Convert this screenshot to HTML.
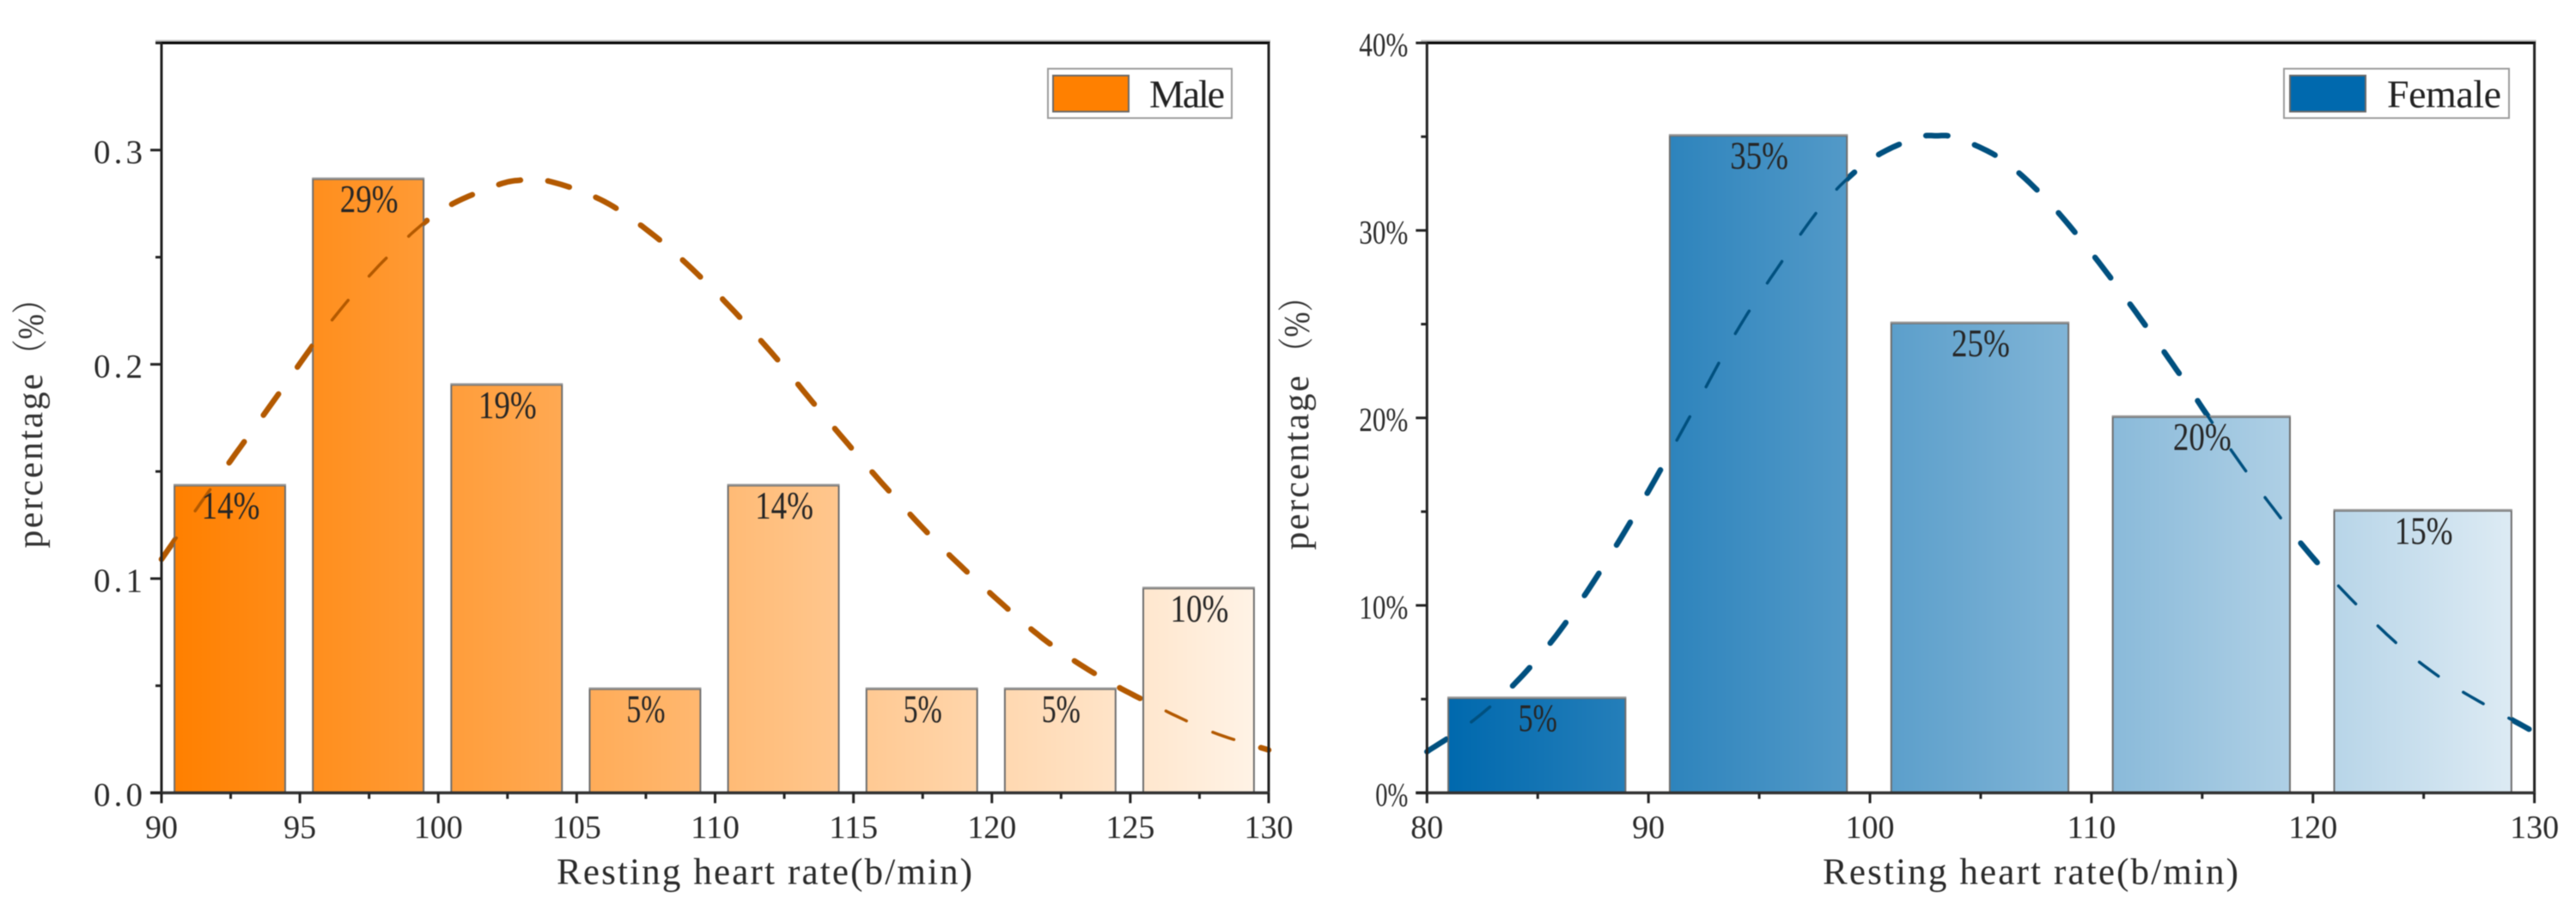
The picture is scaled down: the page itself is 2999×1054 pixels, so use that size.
<!DOCTYPE html>
<html lang="en">
<head>
<meta charset="utf-8">
<title>Resting heart rate distribution by sex</title>
<style>
  html, body { margin: 0; padding: 0; background: #ffffff; }
  #figure { display: block; filter: blur(0.5px); }
  .serif { font-family: "Liberation Serif", "Noto Serif CJK SC", serif; }
  .mono { font-family: "Liberation Mono", "Noto Serif CJK SC", monospace; }
</style>
</head>
<body>
<svg id="figure" xmlns="http://www.w3.org/2000/svg" width="2999" height="1054" viewBox="0 0 2999 1054">
  <rect x="0" y="0" width="2999" height="1054" fill="#ffffff"></rect>
  <defs id="figure-defs"></defs>
</svg>
<script>
// ---- Male chart data ----
const maleBins = [92.5, 97.5, 102.5, 107.5, 112.5, 117.5, 122.5, 127.5];
const maleValues = [0.143, 0.286, 0.19, 0.048, 0.143, 0.048, 0.048, 0.095];
const maleBarLabels = ['14%', '29%', '19%', '5%', '14%', '5%', '5%', '10%'];
const maleBinWidth = 4;
const maleXTicks = [90, 95, 100, 105, 110, 115, 120, 125, 130];
const maleXTickLabels = ['90', '95', '100', '105', '110', '115', '120', '125', '130'];
const maleXMinor = [92.5, 97.5, 102.5, 107.5, 112.5, 117.5, 122.5, 127.5];
const maleYTicks = [0, 0.1, 0.2, 0.3];
const maleYTickLabels = ['0.0', '0.1', '0.2', '0.3'];
const maleYMinor = [0.05, 0.15, 0.25, 0.35];
const maleCurveX = [90, 92, 94, 96, 98, 100, 102, 103, 104, 106, 108, 110, 112, 114, 116, 118, 120, 122, 124, 126, 128, 130];
const maleCurveY = [0.109, 0.146, 0.182, 0.218, 0.248, 0.271, 0.283, 0.286, 0.2855, 0.276, 0.258, 0.234, 0.206, 0.175, 0.145, 0.117, 0.0925, 0.0705, 0.0535, 0.04, 0.0282, 0.02];

// ---- Female chart data ----
const femaleBins = [85, 95, 105, 115, 125];
const femaleValues = [0.05, 0.35, 0.25, 0.2, 0.15];
const femaleBarLabels = ['5%', '35%', '25%', '20%', '15%'];
const femaleBinWidth = 8;
const femaleXTicks = [80, 90, 100, 110, 120, 130];
const femaleXTickLabels = ['80', '90', '100', '110', '120', '130'];
const femaleXMinor = [85, 95, 105, 115, 125];
const femaleYTicks = [0, 0.1, 0.2, 0.3, 0.4];
const femaleYTickLabels = ['0%', '10%', '20%', '30%', '40%'];
const femaleYMinor = [0.05, 0.15, 0.25, 0.35];
const femaleCurveX = [80, 82, 84, 86, 88, 90, 92, 94, 96, 98, 100, 102, 103, 104, 106, 108, 110, 112, 114, 116, 118, 120, 122, 124, 126, 128, 130];
const femaleCurveY = [0.022, 0.0378, 0.0587, 0.0865, 0.1215, 0.161, 0.2035, 0.2465, 0.283, 0.3155, 0.3375, 0.349, 0.3505, 0.349, 0.3375, 0.316, 0.288, 0.2565, 0.223, 0.188, 0.155, 0.1255, 0.1, 0.0775, 0.0595, 0.0455, 0.0324];

const SVG_NS = 'http://www.w3.org/2000/svg';
const figure = document.getElementById('figure');
const figureDefs = document.getElementById('figure-defs');

function make(tag, attrs, parent) {
  const el = document.createElementNS(SVG_NS, tag);
  for (const key in attrs) { el.setAttribute(key, attrs[key]); }
  parent.appendChild(el);
  return el;
}

function drawText(parent, content, cls, size, x, y, anchor, length, adjust, fill) {
  const el = make('text', {
    class: cls, 'font-size': size, x: x, y: y, 'text-anchor': anchor, fill: fill,
    textLength: length, lengthAdjust: adjust
  }, parent);
  el.textContent = content;
  return el;
}

function drawVerticalText(parent, content, cls, size, x, y, length, adjust, fill) {
  const el = make('text', {
    class: cls, 'font-size': size, x: 0, y: 0, 'text-anchor': 'middle', fill: fill,
    textLength: length, lengthAdjust: adjust,
    transform: 'translate(' + x + ',' + y + ') rotate(-90)'
  }, parent);
  el.textContent = content;
  return el;
}

// Spline through the scaled data points, so the curve passes smoothly through each read value.
function smoothPoints(xs, ys, steps) {
  const ox = [];
  const oy = [];
  for (let i = 0; i < xs.length - 1; i++) {
    const a = Math.max(i - 1, 0);
    const d = Math.min(i + 2, xs.length - 1);
    for (let s = 0; s < steps; s++) {
      const t = s / steps;
      const t2 = t * t;
      const t3 = t2 * t;
      ox.push(0.5 * (2 * xs[i] + (xs[i + 1] - xs[a]) * t + (2 * xs[a] - 5 * xs[i] + 4 * xs[i + 1] - xs[d]) * t2 + (-xs[a] + 3 * xs[i] - 3 * xs[i + 1] + xs[d]) * t3));
      oy.push(0.5 * (2 * ys[i] + (ys[i + 1] - ys[a]) * t + (2 * ys[a] - 5 * ys[i] + 4 * ys[i + 1] - ys[d]) * t2 + (-ys[a] + 3 * ys[i] - 3 * ys[i + 1] + ys[d]) * t3));
    }
  }
  ox.push(xs[xs.length - 1]);
  oy.push(ys[ys.length - 1]);
  return [ox, oy];
}

// Walks a polyline and emits dash sub-paths; `aspect` accounts for the
// horizontal compression of the figure so dash lengths look like the source.
function dashedPath(xs, ys, aspect, dash, gap) {
  let d = '';
  let on = true;
  let left = dash;
  let cx = xs[0];
  let cy = ys[0];
  d += 'M' + cx.toFixed(1) + ' ' + cy.toFixed(1);
  for (let i = 1; i < xs.length; i++) {
    let tx = xs[i];
    let ty = ys[i];
    let seg = Math.hypot((tx - cx) * aspect, ty - cy);
    while (seg > left) {
      const t = left / seg;
      cx = cx + (tx - cx) * t;
      cy = cy + (ty - cy) * t;
      d += (on ? 'L' : 'M') + cx.toFixed(1) + ' ' + cy.toFixed(1);
      on = !on;
      seg -= left;
      left = on ? dash : gap;
    }
    left -= seg;
    cx = tx;
    cy = ty;
    if (on) { d += 'L' + cx.toFixed(1) + ' ' + cy.toFixed(1); }
  }
  return d;
}

function drawChart(c) {
  const xScale = v => c.left + (v - c.xMin) / (c.xMax - c.xMin) * (c.right - c.left);
  const yScale = v => c.bottom - (v - c.yMin) / (c.yMax - c.yMin) * (c.bottom - c.top);

  const chart = make('g', {}, figure);
  
  

  // Continuous gradient spanning all bars
  const gradId = c.key + '-bar-gradient';
  const firstEdge = xScale(c.bins[0] - c.binWidth / 2);
  const lastEdge = xScale(c.bins[c.bins.length - 1] + c.binWidth / 2);
  const grad = make('linearGradient', { id: gradId, gradientUnits: 'userSpaceOnUse', x1: firstEdge, y1: 0, x2: lastEdge, y2: 0 }, figureDefs);
  make('stop', { offset: '0', 'stop-color': c.colorStart }, grad);
  make('stop', { offset: '1', 'stop-color': c.colorEnd }, grad);

  // Curve geometry from the data arrays
  const smooth = smoothPoints(c.curveX.map(xScale), c.curveY.map(yScale), 12);
  const curveD = dashedPath(smooth[0], smooth[1], 1.337, c.dash, c.gap);

  const curveThick = make('path', { d: curveD, fill: 'none', stroke: c.curveColor, 'stroke-width': 6.5, 'stroke-linecap': 'round' }, chart);
  
  

  // Bars
  c.bins.forEach((bin, i) => {
    const x0 = xScale(bin - c.binWidth / 2) - 1;
    const x1 = xScale(bin + c.binWidth / 2) - 1;
    const yTop = yScale(c.values[i]) - 1;
    const bar = make('rect', {
      x: x0, y: yTop, width: x1 - x0, height: yScale(0) - yTop,
      fill: 'url(#' + gradId + ')', stroke: '#6e6e6e', 'stroke-width': 2
    }, chart);
    
    
    const barEdge = make('rect', { x: x0 - 1, y: yTop - 2, width: x1 - x0 + 2, height: 2, fill: '#9a9a9a' }, chart);
    
    
  });

  const curveThin = make('path', { d: curveD, fill: 'none', stroke: c.curveColor, 'stroke-width': 3.5, 'stroke-linecap': 'round' }, chart);
  
  

  // Bar value labels
  c.bins.forEach((bin, i) => {
    const label = drawText(chart, c.barLabels[i], 'serif', 46, xScale(bin), yScale(c.values[i]) + 37.5, 'middle', c.barLabels[i].length * 22.6, 'spacingAndGlyphs', '#262626');
    
    
  });

  // Frame
  const halo = make('rect', { x: c.left - 7, y: c.top - 3.5, width: c.right - c.left + 9, height: 2.5, fill: '#bdbdbd' }, chart);
  
  
  const topSpine = make('line', { x1: c.left - 7, y1: c.top, x2: c.right + 1.5, y2: c.top, stroke: '#050505', 'stroke-width': 3 }, chart);
  
  
  const rightSpine = make('line', { x1: c.right, y1: c.top, x2: c.right, y2: c.bottom, stroke: '#222222', 'stroke-width': 3 }, chart);
  
  
  const leftSpine = make('line', { x1: c.left, y1: c.top, x2: c.left, y2: c.bottom, stroke: '#222222', 'stroke-width': 3 }, chart);
  
  
  const bottomSpine = make('line', { x1: c.left - 13, y1: c.bottom, x2: c.right + 1.5, y2: c.bottom, stroke: '#333333', 'stroke-width': 3.5 }, chart);
  
  

  // X ticks
  c.xTicks.forEach((v, i) => {
    const px = xScale(v);
    const tick = make('line', { x1: px, y1: c.bottom, x2: px, y2: c.bottom + 12, stroke: '#222222', 'stroke-width': 3 }, chart);
    
    
    const label = drawText(chart, c.xTickLabels[i], 'serif', 38, px, 976, 'middle', c.xTickLabels[i].length * 19, 'spacingAndGlyphs', '#2a2a2a');
    
    
  });
  c.xMinor.forEach(v => {
    const px = xScale(v);
    const tick = make('line', { x1: px, y1: c.bottom, x2: px, y2: c.bottom + 7, stroke: '#222222', 'stroke-width': 3 }, chart);
    
    
  });

  // Y ticks
  c.yTicks.forEach((v, i) => {
    const py = yScale(v);
    const tick = make('line', { x1: c.left - 13, y1: py, x2: c.left, y2: py, stroke: '#222222', 'stroke-width': 3 }, chart);
    
    
    const text = c.yTickLabels[i];
    const adjust = text.indexOf('.') >= 0 ? 'spacing' : 'spacingAndGlyphs';
    const label = drawText(chart, text, 'serif', 39, c.left - 22, py + 15, 'end', text.length * 19, adjust, '#2a2a2a');
    
    
  });
  c.yMinor.forEach(v => {
    const py = yScale(v);
    const tick = make('line', { x1: c.left - 7, y1: py, x2: c.left, y2: py, stroke: '#222222', 'stroke-width': 3 }, chart);
    
    
  });

  // Axis titles
  const xTitle = drawText(chart, 'Resting heart rate(b/min)', 'serif', 43, c.xTitleX, 1029.5, 'middle', 484, 'spacing', '#2a2a2a');
  
  

  const yTitle = drawVerticalText(chart, 'percentage', 'serif', 42, c.yTitleX, c.yTitleWordY, 203, 'spacing', '#333333');
  
  

  const yUnit = drawVerticalText(chart, '（%）', 'serif', 42, c.yTitleX + 1, c.yTitleUnitY, 100, 'spacingAndGlyphs', '#333333');
  
  

  // Legend
  const legend = make('g', {}, chart);
  
  
  const legendBox = make('rect', { x: c.legendX, y: 80, width: c.legendW, height: 57.5, fill: '#ffffff', stroke: '#9c9c9c', 'stroke-width': 2 }, legend);
  
  
  const swatch = make('rect', { x: c.swatchX, y: 88, width: c.swatchW, height: 42, fill: c.colorStart, stroke: '#6a6a6a', 'stroke-width': 2 }, legend);
  
  
  const legendLabel = drawText(legend, c.legendText, 'serif', 46, c.legendTextX, 125, 'start', c.legendTextW, 'spacing', '#222222');
  
  
}

drawChart({
  key: 'male',
  left: 188, right: 1477, top: 50, bottom: 923.4,
  xMin: 90, xMax: 130, yMin: 0, yMax: 0.35,
  bins: maleBins, values: maleValues, barLabels: maleBarLabels, binWidth: maleBinWidth,
  xTicks: maleXTicks, xTickLabels: maleXTickLabels, xMinor: maleXMinor,
  yTicks: maleYTicks, yTickLabels: maleYTickLabels, yMinor: maleYMinor,
  curveX: maleCurveX, curveY: maleCurveY,
  colorStart: '#ff8000', colorEnd: '#fff3e6', curveColor: '#b35900',
  dash: 34, gap: 43,
  xTitleX: 890, yTitleX: 49, yTitleWordY: 537, yTitleUnitY: 380.5,
  legendX: 1220, legendW: 214, swatchX: 1226, swatchW: 88,
  legendText: 'Male', legendTextX: 1338, legendTextW: 88
});

drawChart({
  key: 'female',
  left: 1661.3, right: 2950.6, top: 50, bottom: 923.4,
  xMin: 80, xMax: 130, yMin: 0, yMax: 0.4,
  bins: femaleBins, values: femaleValues, barLabels: femaleBarLabels, binWidth: femaleBinWidth,
  xTicks: femaleXTicks, xTickLabels: femaleXTickLabels, xMinor: femaleXMinor,
  yTicks: femaleYTicks, yTickLabels: femaleYTickLabels, yMinor: femaleYMinor,
  curveX: femaleCurveX, curveY: femaleCurveY,
  colorStart: '#0069ae', colorEnd: '#ddebf4', curveColor: '#00507f',
  dash: 34, gap: 43,
  xTitleX: 2364, yTitleX: 1523, yTitleWordY: 539, yTitleUnitY: 378,
  legendX: 2659, legendW: 262, swatchX: 2666, swatchW: 88,
  legendText: 'Female', legendTextX: 2779, legendTextW: 133
});
</script>
</body>
</html>
